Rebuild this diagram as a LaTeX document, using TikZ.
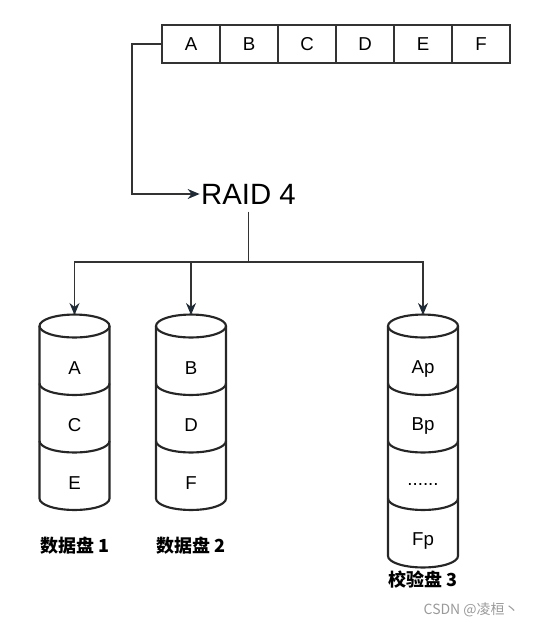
\documentclass[tikz,border=0pt]{standalone}
\usepackage{fontspec}
\setmainfont{Liberation Sans}
\newfontfamily\cjk{Noto Sans CJK SC}
\usetikzlibrary{arrows.meta}
\definecolor{ln}{HTML}{333333}
\definecolor{tip}{HTML}{1E2A36}
\definecolor{wm}{HTML}{9A9A9A}
\tikzset{
  cell/.style={draw=ln, line width=1.3pt, minimum width=43.5pt, minimum height=28.5pt, inner sep=0pt, outer sep=0pt, font=\fontsize{14}{16}\selectfont, anchor=west},
  conn/.style={draw=ln, line width=0.9pt},
  arr/.style={conn, -{Stealth[length=9pt,width=7.5pt,color=tip]}},
  cyl/.style={draw=black!85, line width=1.6pt},
  dlab/.style={font=\fontsize{14}{16}\selectfont, inner sep=0pt},
  clab/.style={font=\cjk\bfseries\fontsize{13.5}{16}\selectfont, inner sep=0pt},
}
\begin{document}
\begin{tikzpicture}[x=0.75pt,y=-0.75pt]
\useasboundingbox (0,0) rectangle (535,626);
% top array
\node[cell] (cA) at (162,44) {A};
\node[cell] (cB) at (cA.east) {B};
\node[cell] (cC) at (cB.east) {C};
\node[cell] (cD) at (cC.east) {D};
\node[cell] (cE) at (cD.east) {E};
\node[cell] (cF) at (cE.east) {F};
% RAID 4
\node[font=\fontsize{22}{26}\selectfont, inner xsep=1pt, inner ysep=5.5pt] (raid) at (248.5,194) {RAID 4};
\coordinate (bend) at (132,44);
\draw[arr] (cA.west) -- (bend) |- (raid.west);
\coordinate (split) at (248.5,262);
\draw[conn] (raid.south) -- (split);
\coordinate (t1) at (74.5,315);
\coordinate (t2) at (191,315);
\coordinate (t3) at (423,315);
\draw[arr] (split) -| (t1);
\draw[arr] (split) -| (t2);
\draw[arr] (split) -| (t3);
% cylinders
\foreach \cx/\n in {74.5/3,191/3,423/4}{
  \draw[cyl] (\cx-35,326) -- (\cx-35,{326+57.5*\n}) arc[start angle=180, end angle=360, x radius=26.25pt, y radius=8.6pt] -- (\cx+35,326);
  \draw[cyl] (\cx,326) ellipse [x radius=26.25pt, y radius=8.6pt];
  \foreach \k in {1,...,\n}{
    \ifnum\k<\n
      \draw[cyl] (\cx-35,{326+57.5*\k}) arc[start angle=180, end angle=360, x radius=26.25pt, y radius=8.6pt];
    \fi
  }
}
\node[dlab] (a1) at (74.5,368) {A};
\node[dlab] (a2) at (74.5,425.5) {C};
\node[dlab] (a3) at (74.5,483) {E};
\node[dlab] (b1) at (191,368) {B};
\node[dlab] (b2) at (191,425.5) {D};
\node[dlab] (b3) at (191,483) {F};
\node[dlab] (p1) at (423,369) {Ap};
\node[dlab] (p2) at (423,426.5) {Bp};
\node[dlab] (p3) at (423,484) {......};
\node[dlab] (p4) at (423,541.5) {Fp};
% labels
\node[clab] (l1) at (75,546) {数据盘 1};
\node[clab] (l2) at (191,546) {数据盘 2};
\node[clab] (l3) at (423,580) {校验盘 3};
\node[font=\cjk\fontsize{10.5}{12}\selectfont, text=wm, inner sep=0pt, anchor=east] (wmk) at (519,610) {CSDN @凌桓丶};
\end{tikzpicture}
\end{document}
